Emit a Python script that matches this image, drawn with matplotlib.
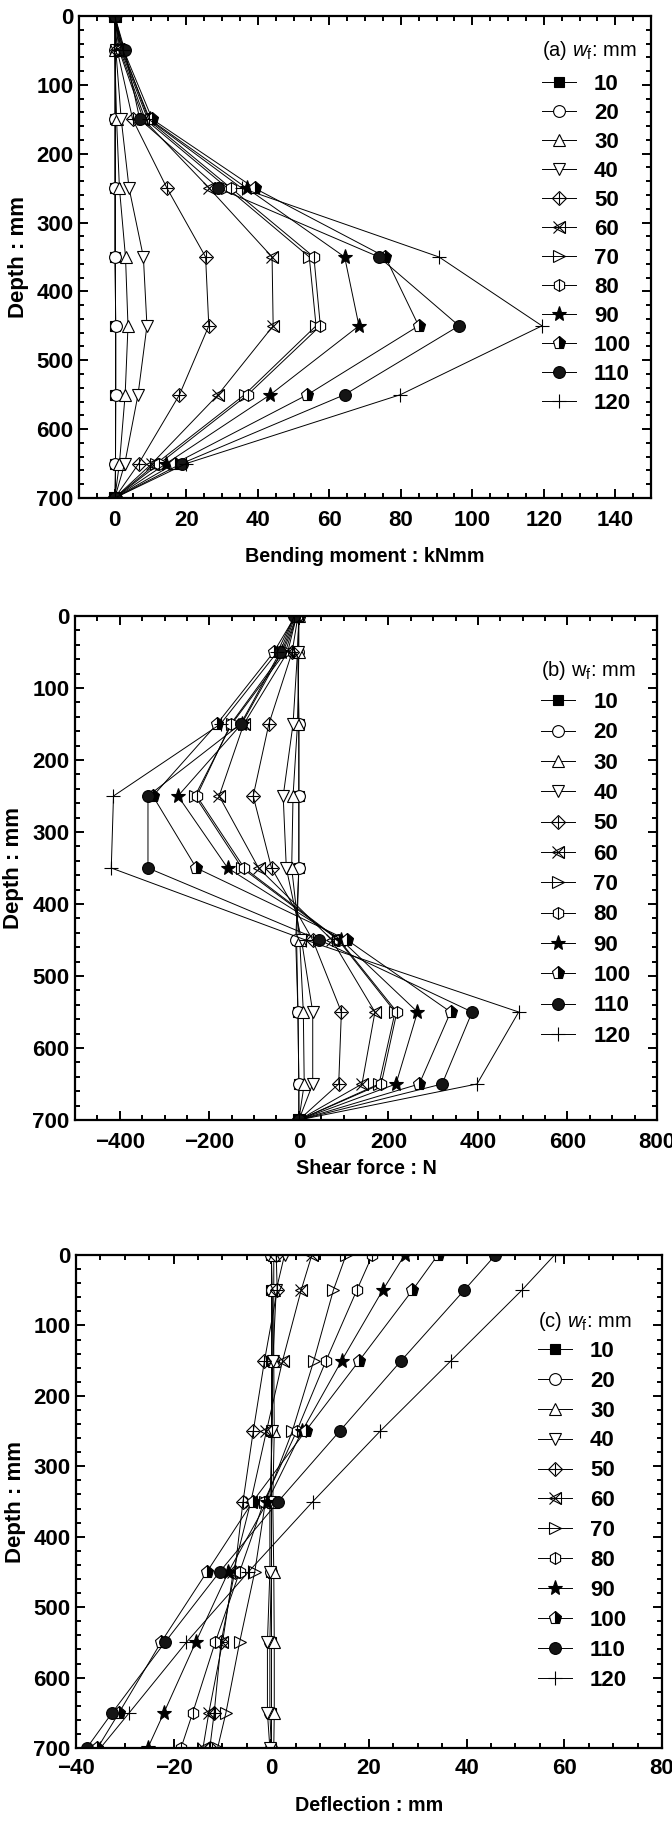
import matplotlib
matplotlib.use("Agg")
import matplotlib.pyplot as plt
from matplotlib.ticker import MultipleLocator

plt.rcParams["font.family"] = ["Liberation Sans Narrow", "Liberation Sans", "DejaVu Sans"]
plt.rcParams["mathtext.fontset"] = "custom"
plt.rcParams["mathtext.rm"] = "Liberation Sans"
plt.rcParams["mathtext.it"] = "Liberation Sans:italic"

WIDE = ["Liberation Sans", "DejaVu Sans"]

# depth of each measuring point (mm)
depth = [0, 50, 150, 250, 350, 450, 550, 650, 700]
wf = [10, 20, 30, 40, 50, 60, 70, 80, 90, 100, 110, 120]

# bending moment (kNmm), one row per w_f
moment = [
    [0, 0, 0, 0, 0, 0, 0, 0, 0],
    [0, 0, 0, 0, 0, 0.3, 0.3, 0.2, 0],
    [0, 0, 0.5, 1.3, 3.0, 3.7, 2.9, 1.3, 0],
    [0, 0.3, 1.8, 4.0, 8.0, 9.0, 6.5, 2.8, 0],
    [0, 0.7, 5.0, 14.6, 25.4, 26.3, 18.1, 6.7, 0],
    [0, 1.2, 8.0, 26.4, 44.0, 44.3, 28.9, 10.4, 0],
    [0, 1.5, 8.5, 31.5, 54.4, 56.3, 36.3, 11.6, 0],
    [0, 1.8, 9.2, 32.5, 55.7, 57.5, 37.2, 12.5, 0],
    [0, 2.0, 9.8, 36.9, 64.3, 68.3, 43.5, 14.4, 0],
    [0, 2.5, 10.5, 39.1, 75.7, 85.0, 53.9, 16.8, 0],
    [0, 2.8, 7.0, 29.0, 73.9, 96.3, 64.3, 18.7, 0],
    [0, 2.3, 9.5, 35.5, 90.7, 119.5, 79.9, 20.0, 0],
]

# shear force (N)
shear = [
    [0, -2, 0, 0, 0, -5, -2, 0, 0],
    [0, -2, 0, 0, 0, -7, -2, 0, 0],
    [0, 0, -3, -13, -16, 2, 10, 12, 0],
    [0, -3, -13, -35, -28, 6, 31, 31, 0],
    [-2, -15, -67, -102, -61, 31, 95, 89, 0],
    [-5, -25, -123, -178, -90, 74, 170, 141, 0],
    [-5, -30, -150, -232, -127, 88, 215, 179, 0],
    [-5, -35, -152, -228, -122, 90, 219, 184, 0],
    [-8, -38, -128, -270, -159, 95, 265, 217, 0],
    [-8, -56, -183, -326, -229, 108, 339, 269, 0],
    [-10, -42, -130, -337, -337, 46, 387, 320, 0],
    [-10, -48, -175, -414, -419, 15, 491, 398, 0],
]

# deflection (mm)
deflection = [
    [0, 0, 0, 0, 0, 0, 0, 0, 0],
    [0, 0.2, 0.3, 0, 0, 0, -0.3, -0.3, 0],
    [0.5, 0.5, 0.5, 0.6, 0.3, 0.5, 0.6, 0.6, 0.5],
    [2.7, 1.0, 0.3, 0.2, -0.3, -0.3, -0.8, -0.8, -0.3],
    [1.0, 1.2, -1.4, -3.7, -5.8, -7.5, -10.3, -11.7, -12.6],
    [8.3, 6.1, 2.3, -1.0, -4.2, -7.8, -10.0, -12.8, -14.0],
    [15.3, 12.7, 8.7, 4.3, -1.2, -3.4, -6.5, -9.3, -11.0],
    [20.7, 17.5, 11.2, 5.2, -1.5, -6.5, -11.5, -16.1, -18.5],
    [27.3, 22.8, 14.4, 6.3, -0.8, -8.8, -15.5, -22.0, -25.3],
    [34.1, 28.9, 18.0, 7.0, -3.8, -13.2, -22.6, -31.2, -35.6],
    [45.9, 39.5, 26.6, 14.0, 1.4, -10.6, -21.8, -32.6, -37.8],
    [58.0, 51.3, 36.8, 22.3, 8.5, -4.7, -17.4, -29.1, -35.0],
]

# marker layers for each w_f: (marker, size, facecolor, extra kwargs)
styles = [
    [("s", 7.5, "k", {})],
    [("o", 8.5, "white", {})],
    [("^", 8.5, "white", {})],
    [("v", 8.5, "white", {})],
    [("D", 7.5, "none", {}), ("+", 8.5, "none", {})],
    [("<", 8.5, "none", {}), ("x", 8.5, "none", {})],
    [(">", 8.5, "none", {})],
    [("h", 8.5, "white", {}), ("|", 8.5, "none", {})],
    [("*", 11, "k", {})],
    [("p", 9.5, "k", {"fillstyle": "right", "markerfacecoloralt": "white"})],
    [("o", 8.5, "#151515", {})],
    [("+", 9.5, "none", {})],
]

LW = 0.7


def draw_series(ax, values):
    handles = []
    for i, w in enumerate(wf):
        layers = []
        for j, (m, ms, fc, kw) in enumerate(styles[i]):
            ls = "-" if j == 0 else "none"
            (ln,) = ax.plot(values[i], depth, color="k", lw=LW, ls=ls,
                            marker=m, ms=ms, mfc=fc, mec="k", mew=0.8, **kw)
            layers.append(ln)
        handles.append(tuple(layers) if len(layers) > 1 else layers[0])
    return handles


def style_axes(ax, xlim, xmajor, xminor, xpad):
    ax.set_xlim(*xlim)
    ax.set_ylim(700, 0)
    ax.xaxis.set_major_locator(MultipleLocator(xmajor))
    ax.xaxis.set_minor_locator(MultipleLocator(xminor))
    ax.yaxis.set_major_locator(MultipleLocator(100))
    ax.yaxis.set_minor_locator(MultipleLocator(20))
    ax.tick_params(which="both", direction="in", top=True, right=True, width=1.4)
    ax.tick_params(which="major", length=6.5)
    ax.tick_params(which="minor", length=3.6)
    ax.tick_params(axis="x", pad=xpad, labelsize=16)
    ax.tick_params(axis="y", pad=4.0, labelsize=16)
    for lab in ax.get_xticklabels() + ax.get_yticklabels():
        lab.set_fontweight("bold")
    for sp in ax.spines.values():
        sp.set_linewidth(1.6)


def set_labels(ax, xlabel, xy, yx):
    ax.set_xlabel(xlabel, fontsize=14.2, fontweight="bold", va="center")
    ax.set_ylabel("Depth : mm", fontsize=16, fontweight="bold", va="center",
                  family=WIDE)
    ax.xaxis.set_label_coords(0.5, xy)
    ax.yaxis.set_label_coords(yx, 0.5)


def add_legend(ax, handles, title, tx, ty, ly, spacing):
    ax.text(tx, ty, title, transform=ax.transAxes, fontsize=14.5,
            ha="left", va="center", family=WIDE)
    leg = ax.legend(handles, [str(w) for w in wf], loc="upper left",
                    bbox_to_anchor=(tx, ly), frameon=False,
                    prop={"size": 16, "weight": "bold"},
                    handlelength=1.55, handletextpad=0.8,
                    labelspacing=spacing, borderpad=0, borderaxespad=0)
    return leg


fig = plt.figure(figsize=(6.72, 18.22), dpi=100)

# (a) bending moment
ax1 = fig.add_axes([0.1176, 0.7267, 0.8512, 0.2645])
h1 = draw_series(ax1, moment)
style_axes(ax1, (-10, 150), 20, 5, 9)
set_labels(ax1, "Bending moment : kNmm", -0.122, -0.105)
add_legend(ax1, h1, r"(a) $w_\mathrm{f}$: mm", 0.809, 0.9295, 0.880, 0.36)

# (b) shear force
ax2 = fig.add_axes([0.1116, 0.3853, 0.8661, 0.2766])
h2 = draw_series(ax2, shear)
style_axes(ax2, (-500, 800), 200, 50, 9)
set_labels(ax2, "Shear force : N", -0.097, -0.1065)
add_legend(ax2, h2, r"(b) w$_\mathrm{f}$: mm", 0.8007, 0.891, 0.849, 0.42)

# (c) deflection
ax3 = fig.add_axes([0.1131, 0.0406, 0.8720, 0.2706])
h3 = draw_series(ax3, deflection)
style_axes(ax3, (-40, 80), 20, 5, 7)
set_labels(ax3, "Deflection : mm", -0.1156, -0.1024)
add_legend(ax3, h3, r"(c) $w_\mathrm{f}$: mm", 0.788, 0.866, 0.826, 0.40)

fig.savefig("out.png", dpi=100)
